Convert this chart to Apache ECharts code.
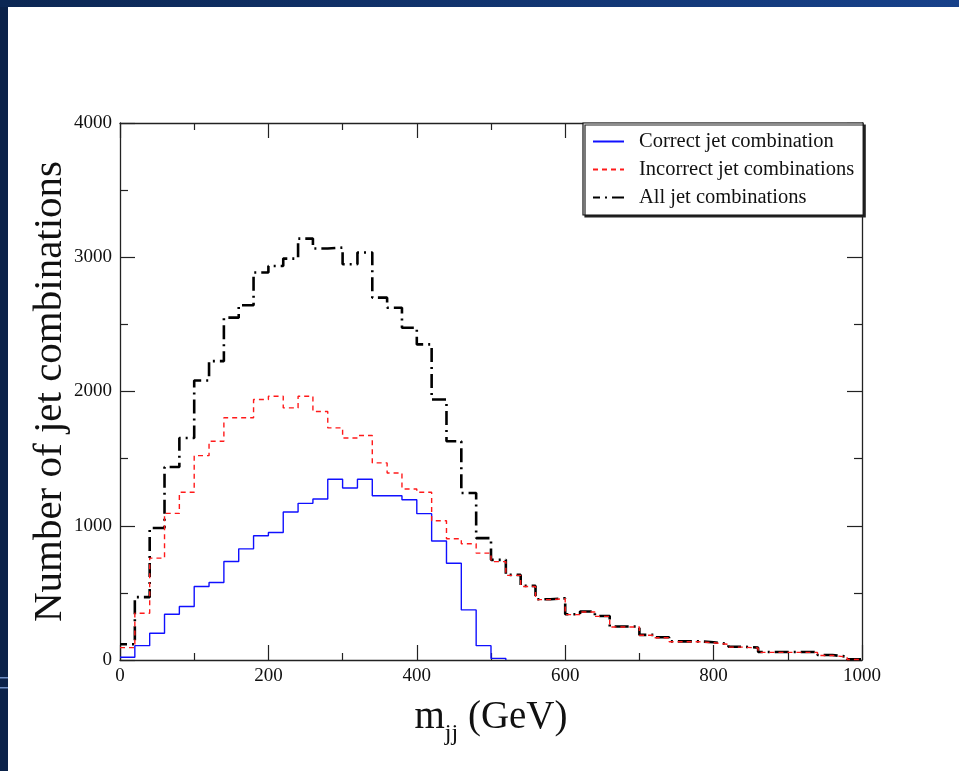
<!DOCTYPE html>
<html>
<head>
<meta charset="utf-8">
<style>
  html, body { margin: 0; padding: 0; background: #ffffff; }
  #chart { width: 959px; height: 771px; }
</style>
<script src="https://cdn.jsdelivr.net/npm/echarts@6/dist/echarts.min.js"></script>
</head>
<body>
<div id="chart"></div>
<script>
// Left edges of the 20 GeV mass bins (GeV)
const binEdges = [0, 20, 40, 60, 80, 100, 120, 140, 160, 180,
                  200, 220, 240, 260, 280, 300, 320, 340, 360, 380,
                  400, 420, 440, 460, 480, 500, 520, 540, 560, 580,
                  600, 620, 640, 660, 680, 700, 720, 740, 760, 780,
                  800, 820, 840, 860, 880, 900, 920, 940, 960, 980];
const xMax = 1000;

// Entries per bin
const correctCounts = [20, 107, 199, 341, 398, 547, 577, 734, 828, 925,
                       950, 1102, 1167, 1199, 1346, 1281, 1346, 1224, 1224, 1194,
                       1090, 886, 721, 373, 107, 12];

const incorrectCounts = [92, 348, 759, 1092, 1249, 1522, 1629, 1804, 1804, 1940,
                         1965, 1878, 1965, 1851, 1729, 1654, 1672, 1468, 1393, 1274,
                         1249, 1037, 903, 866, 796, 733, 630, 548, 450, 456,
                         338, 358, 325, 246, 246, 184, 166, 136, 136, 129,
                         116, 96, 89, 57, 57, 57, 57, 34, 22, 4];

const allCounts = [117, 468, 983, 1438, 1654, 2082, 2226, 2550, 2642, 2886,
                   2935, 2990, 3139, 3065, 3072, 2948, 3035, 2699, 2624, 2475,
                   2351, 1940, 1629, 1244, 908, 746, 634, 552, 453, 460,
                   341, 361, 328, 249, 249, 187, 169, 139, 139, 132,
                   119, 99, 92, 60, 60, 60, 60, 37, 25, 6];

const seriesNames = ['Correct jet combination', 'Incorrect jet combinations', 'All jet combinations'];

// Turn bin contents into step points: one point per left edge, closed at the last right edge
function histPoints(counts, closeValue) {
  const pts = counts.map((v, i) => [binEdges[i], v]);
  const lastRight = counts.length < binEdges.length ? binEdges[counts.length] : xMax;
  pts.push([lastRight, closeValue === undefined ? counts[counts.length - 1] : closeValue]);
  return pts;
}

const serif = '"Liberation Serif", "DejaVu Serif", serif';
const axisColor = '#222';
const plainNumber = v => String(v);

const chart = echarts.init(document.getElementById('chart'), null, { renderer: 'canvas' });

const frameAxisX = (pos, labels) => ({
  type: 'value', position: pos, min: 0, max: xMax, interval: 200,
  axisLine: { show: true, onZero: false, lineStyle: { color: axisColor, width: 1.3 } },
  axisTick: { show: true, inside: true, length: 15, lineStyle: { color: axisColor, width: 1.2 } },
  minorTick: { show: true, splitNumber: 2, length: 7, lineStyle: { color: axisColor, width: 1.2 } },
  splitLine: { show: false },
  axisLabel: { show: labels, fontFamily: serif, fontSize: 19, color: '#111', margin: 7, formatter: plainNumber }
});

const frameAxisY = (pos, labels) => ({
  type: 'value', position: pos, min: 0, max: 4000, interval: 1000,
  axisLine: { show: true, onZero: false, lineStyle: { color: axisColor, width: 1.3 } },
  axisTick: { show: true, inside: true, length: 15, lineStyle: { color: axisColor, width: 1.2 } },
  minorTick: { show: true, splitNumber: 2, length: 8, lineStyle: { color: axisColor, width: 1.2 } },
  splitLine: { show: false },
  axisLabel: { show: labels, fontFamily: serif, fontSize: 19, color: '#111', margin: 8, formatter: plainNumber }
});

const xBottom = frameAxisX('bottom', true);
xBottom.name = '{m|m}{s|jj}{m| (GeV)}';
xBottom.nameLocation = 'middle';
xBottom.nameGap = 38;
xBottom.nameTextStyle = {
  rich: {
    m: { fontFamily: serif, fontSize: 39, color: '#111', verticalAlign: 'top' },
    s: { fontFamily: serif, fontSize: 24, color: '#111', verticalAlign: 'top', padding: [24, 0, 0, 0] }
  }
};

const yLeft = frameAxisY('left', true);
yLeft.name = 'Number of jet combinations';
yLeft.nameLocation = 'middle';
yLeft.nameGap = 49;
yLeft.nameMoveOverlap = false;
yLeft.nameTextStyle = { fontFamily: serif, fontSize: 41, color: '#111' };

const option = {
  backgroundColor: '#ffffff',
  animation: false,
  graphic: [
    { type: 'rect', z: -10, silent: true, shape: { x: 0, y: 0, width: 8, height: 771 },
      style: { fill: '#0b2249' } },
    { type: 'rect', z: -10, silent: true, shape: { x: 0, y: 0, width: 959, height: 7 },
      style: { fill: new echarts.graphic.LinearGradient(0, 0, 1, 0, [
        { offset: 0, color: '#0c2753' }, { offset: 1, color: '#17418a' }]) } },
    { type: 'rect', z: -9, silent: true, shape: { x: 0, y: 677, width: 8, height: 1.5 },
      style: { fill: '#6f8fc4' } },
    { type: 'rect', z: -9, silent: true, shape: { x: 0, y: 687, width: 8, height: 1.5 },
      style: { fill: '#6f8fc4' } }
  ],
  grid: { left: 120, top: 123, width: 742, height: 537, containLabel: false },
  xAxis: [xBottom, frameAxisX('top', false)],
  yAxis: [yLeft, frameAxisY('right', false)],
  legend: {
    orient: 'vertical',
    left: 583, top: 123,
    padding: [8, 9, 7, 9],
    itemGap: 7,
    itemWidth: 31, itemHeight: 14,
    backgroundColor: '#ffffff',
    borderColor: '#111', borderWidth: 1.2,
    shadowColor: '#222', shadowBlur: 0, shadowOffsetX: 2, shadowOffsetY: 2,
    itemStyle: { opacity: 0 },
    textStyle: { fontFamily: serif, fontSize: 20.5, lineHeight: 14, color: '#111', padding: [0, 0, 0, 10] },
    data: seriesNames,
    z: 20
  },
  series: [
    {
      name: seriesNames[0], type: 'line', step: 'end', symbol: 'none',
      data: histPoints(correctCounts, 0),
      lineStyle: { color: '#1010ff', width: 1.4, type: 'solid' },
      itemStyle: { color: '#1010ff' }, z: 3
    },
    {
      name: seriesNames[1], type: 'line', step: 'end', symbol: 'none',
      data: histPoints(incorrectCounts),
      lineStyle: { color: '#ff1a1a', width: 1.4, type: [5, 4] },
      itemStyle: { color: '#ff1a1a' }, z: 4
    },
    {
      name: seriesNames[2], type: 'line', step: 'end', symbol: 'none',
      data: histPoints(allCounts),
      lineStyle: { color: '#000000', width: 2.6, type: [14, 5, 2, 5], dashOffset: 7 },
      itemStyle: { color: '#000000' }, z: 2
    }
  ]
};

chart.setOption(option);
</script>
</body>
</html>
